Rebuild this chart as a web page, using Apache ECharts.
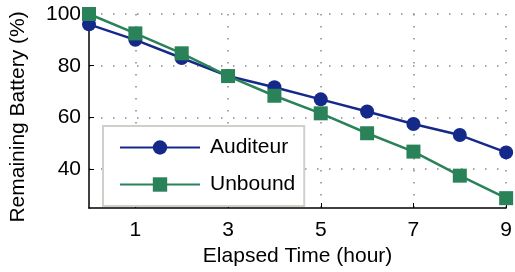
<!DOCTYPE html>
<html>
<head>
<meta charset="utf-8">
<script src="https://cdn.jsdelivr.net/npm/echarts@6/dist/echarts.min.js"></script>
<style>
  html, body { margin: 0; padding: 0; background: #fff; }
  #chart { width: 515px; height: 272px; }
</style>
</head>
<body>
<div id="chart"></div>
<script>
// elapsed hours
const hours = [0, 1, 2, 3, 4, 5, 6, 7, 8, 9];
const auditeur = [96, 90, 83, 76, 71.7, 67, 62.3, 57.5, 53.2, 46.5];
const unbound = [100, 92.5, 84.8, 76, 68.4, 61.6, 53.9, 46.8, 37.5, 28.8];
const xTicks = [1, 3, 5, 7, 9];
const yTicks = [40, 60, 80, 100];

const FONT = "Liberation Sans";
const BLUE = "#15298a";
const GREEN = "#2a8259";

const chart = echarts.init(document.getElementById("chart"));

const dotted = { show: true, lineStyle: { color: "#888", type: [1.5, 10.5], width: 1.5 } };

chart.setOption({
  animation: false,
  grid: { left: 89, right: 6, top: 14, bottom: 63 },
  legend: {
    orient: "vertical",
    left: 103,
    top: 126,
    padding: [11, 9, 11, 16],
    itemWidth: 80,
    itemHeight: 18,
    itemGap: 16,
    backgroundColor: "#fff",
    borderColor: "#d2cfca",
    borderWidth: 2,
    textStyle: { fontFamily: FONT, fontSize: 21, color: "#000", padding: [0, 0, 0, 5] },
    data: ["Auditeur", "Unbound"],
  },
  xAxis: {
    type: "value",
    min: 0,
    max: 9,
    name: "Elapsed Time (hour)",
    nameLocation: "middle",
    nameGap: 38,
    nameTextStyle: { fontFamily: FONT, fontSize: 21, color: "#000" },
    axisLine: { show: true, lineStyle: { color: "#000", width: 1.5 } },
    axisTick: { show: true, inside: true, length: 5, customValues: xTicks, lineStyle: { color: "#000" } },
    axisLabel: { customValues: xTicks, fontFamily: FONT, fontSize: 21, color: "#000", margin: 12 },
    splitLine: dotted,
  },
  yAxis: {
    type: "value",
    min: 25,
    max: 100,
    name: "Remaining Battery (%)",
    nameLocation: "middle",
    nameGap: 60,
    nameTextStyle: { fontFamily: FONT, fontSize: 21, color: "#000", padding: [0, 12, 0, 0] },
    axisLine: { show: true, lineStyle: { color: "#000", width: 1.5 } },
    axisTick: { show: true, inside: true, length: 5, customValues: yTicks, lineStyle: { color: "#000" } },
    axisLabel: { customValues: yTicks, fontFamily: FONT, fontSize: 21, color: "#000", margin: 8 },
    splitLine: dotted,
  },
  series: [
    {
      name: "Auditeur",
      type: "line",
      data: hours.map((h, i) => [h, auditeur[i]]),
      symbol: "circle",
      symbolSize: 14,
      clip: false,
      z: 2,
      itemStyle: { color: BLUE },
      lineStyle: { color: BLUE, width: 2.5 },
    },
    {
      name: "Unbound",
      type: "line",
      data: hours.map((h, i) => [h, unbound[i]]),
      symbol: "rect",
      symbolSize: 14,
      clip: false,
      z: 3,
      itemStyle: { color: GREEN },
      lineStyle: { color: GREEN, width: 2.5 },
    },
  ],
});
</script>
</body>
</html>
